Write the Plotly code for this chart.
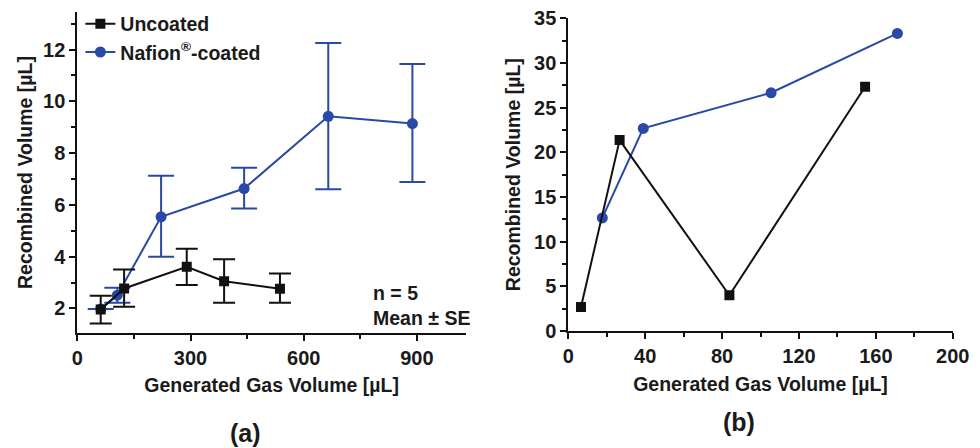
import plotly.graph_objects as go

# Panel (a): mean ± SE
a_unc_x = [62, 124, 290, 389, 537]
a_unc_y = [1.96, 2.77, 3.61, 3.05, 2.76]
a_unc_hi = [2.49, 3.50, 4.30, 3.90, 3.35]
a_unc_lo = [1.42, 2.06, 2.90, 2.22, 2.22]

a_naf_x = [62, 106, 222, 442, 665, 888]
a_naf_y = [1.98, 2.51, 5.54, 6.63, 9.42, 9.14]
a_naf_hi = [1.98, 2.80, 7.12, 7.43, 12.25, 11.44]
a_naf_lo = [1.98, 2.22, 4.00, 5.86, 6.60, 6.88]

# Panel (b)
b_unc_x = [6.6, 26.7, 83.8, 154.4]
b_unc_y = [2.69, 21.37, 4.0, 27.34]
b_naf_x = [17.7, 39.0, 105.5, 171.2]
b_naf_y = [12.66, 22.68, 26.67, 33.32]

BLUE = "#2a48a6"
BLACK = "#111111"
FONT = "Liberation Sans, Arial, sans-serif"
TXT = "#1a1a1a"

fig = go.Figure()

fig.add_trace(go.Scatter(
    x=a_naf_x, y=a_naf_y, mode="lines+markers", name="Nafion<sup>®</sup>-coated",
    line=dict(color=BLUE, width=2), marker=dict(symbol="circle", size=11, color=BLUE),
    error_y=dict(type="data", symmetric=False,
                 array=[h - y for h, y in zip(a_naf_hi, a_naf_y)],
                 arrayminus=[y - l for l, y in zip(a_naf_lo, a_naf_y)],
                 color=BLUE, thickness=2, width=13),
    xaxis="x", yaxis="y", legendrank=2, legendgroup="n"))

fig.add_trace(go.Scatter(
    x=a_unc_x, y=a_unc_y, mode="lines+markers", name="Uncoated",
    line=dict(color=BLACK, width=2), marker=dict(symbol="square", size=10, color=BLACK),
    error_y=dict(type="data", symmetric=False,
                 array=[h - y for h, y in zip(a_unc_hi, a_unc_y)],
                 arrayminus=[y - l for l, y in zip(a_unc_lo, a_unc_y)],
                 color=BLACK, thickness=2, width=11),
    xaxis="x", yaxis="y", legendrank=1, legendgroup="u"))

fig.add_trace(go.Scatter(
    x=b_naf_x, y=b_naf_y, mode="lines+markers", showlegend=False,
    line=dict(color=BLUE, width=2), marker=dict(symbol="circle", size=11, color=BLUE),
    xaxis="x2", yaxis="y2"))

fig.add_trace(go.Scatter(
    x=b_unc_x, y=b_unc_y, mode="lines+markers", showlegend=False,
    line=dict(color=BLACK, width=2), marker=dict(symbol="square", size=10, color=BLACK),
    xaxis="x2", yaxis="y2"))

axis_common = dict(
    showline=True, linecolor=BLACK, linewidth=2, mirror=False,
    ticks="outside", ticklen=6, tickwidth=2, tickcolor=BLACK,
    showgrid=False, zeroline=False, automargin=False,
    tickfont=dict(family=FONT, size=20, color=TXT, weight="bold"),
)
title_font = dict(family=FONT, size=19.5, color=TXT, weight="bold")
minor_common = dict(ticks="outside", ticklen=4, tickwidth=2, tickcolor=BLACK)

fig.update_layout(
    width=980, height=448,
    margin=dict(l=0, r=0, t=0, b=0),
    paper_bgcolor="white", plot_bgcolor="white",
    xaxis=dict(axis_common, domain=[0.0789, 0.4755], range=[0, 1030],
               tickvals=[0, 300, 600, 900],
               minor=dict(minor_common, dtick=150),
               title=dict(text="Generated Gas Volume [µL]", font=title_font, standoff=10),
               anchor="y"),
    yaxis=dict(axis_common, domain=[0.2567, 0.9732], range=[1.05, 13.45],
               tickvals=[2, 4, 6, 8, 10, 12],
               minor=dict(minor_common, tick0=1, dtick=1),
               title=dict(text="Recombined Volume [µL]", font=title_font, standoff=5),
               anchor="x"),
    xaxis2=dict(axis_common, domain=[0.5799, 0.9722], range=[0, 200],
                tickvals=[0, 40, 80, 120, 160, 200],
                minor=dict(minor_common, dtick=20),
                title=dict(text="Generated Gas Volume [µL]", font=title_font, standoff=11),
                anchor="y2"),
    yaxis2=dict(axis_common, domain=[0.2612, 0.9590], range=[0, 35],
                tickvals=[0, 5, 10, 15, 20, 25, 30, 35],
                minor=dict(minor_common, dtick=2.5),
                title=dict(text="Recombined Volume [µL]", font=title_font, standoff=8),
                anchor="x2"),
    legend=dict(x=0.082, y=0.99, xanchor="left", yanchor="top",
                bgcolor="rgba(0,0,0,0)", traceorder="grouped", tracegroupgap=0,
                font=dict(family=FONT, size=19.5, color=TXT, weight="bold"),
                itemwidth=30),
    showlegend=True,
)

fig.add_annotation(x=0.379, y=1 - 305 / 448, xref="paper", yref="paper",
                   xanchor="left", yanchor="middle",
                   align="left", showarrow=False, text="n = 5<br>Mean ± SE",
                   font=dict(family=FONT, size=19.5, color=TXT, weight="bold"))
fig.add_annotation(x=245.5 / 980, y=1 - 433 / 448, xref="paper", yref="paper", showarrow=False,
                   xanchor="center", yanchor="middle",
                   text="(a)", font=dict(family=FONT, size=25, color=TXT, weight="bold"))
fig.add_annotation(x=739 / 980, y=1 - 422 / 448, xref="paper", yref="paper", showarrow=False,
                   xanchor="center", yanchor="middle",
                   text="(b)", font=dict(family=FONT, size=25, color=TXT, weight="bold"))

fig.write_html("out.html", config={"displayModeBar": False},
               post_script="document.body.style.margin='0';document.body.style.overflow='hidden';")
